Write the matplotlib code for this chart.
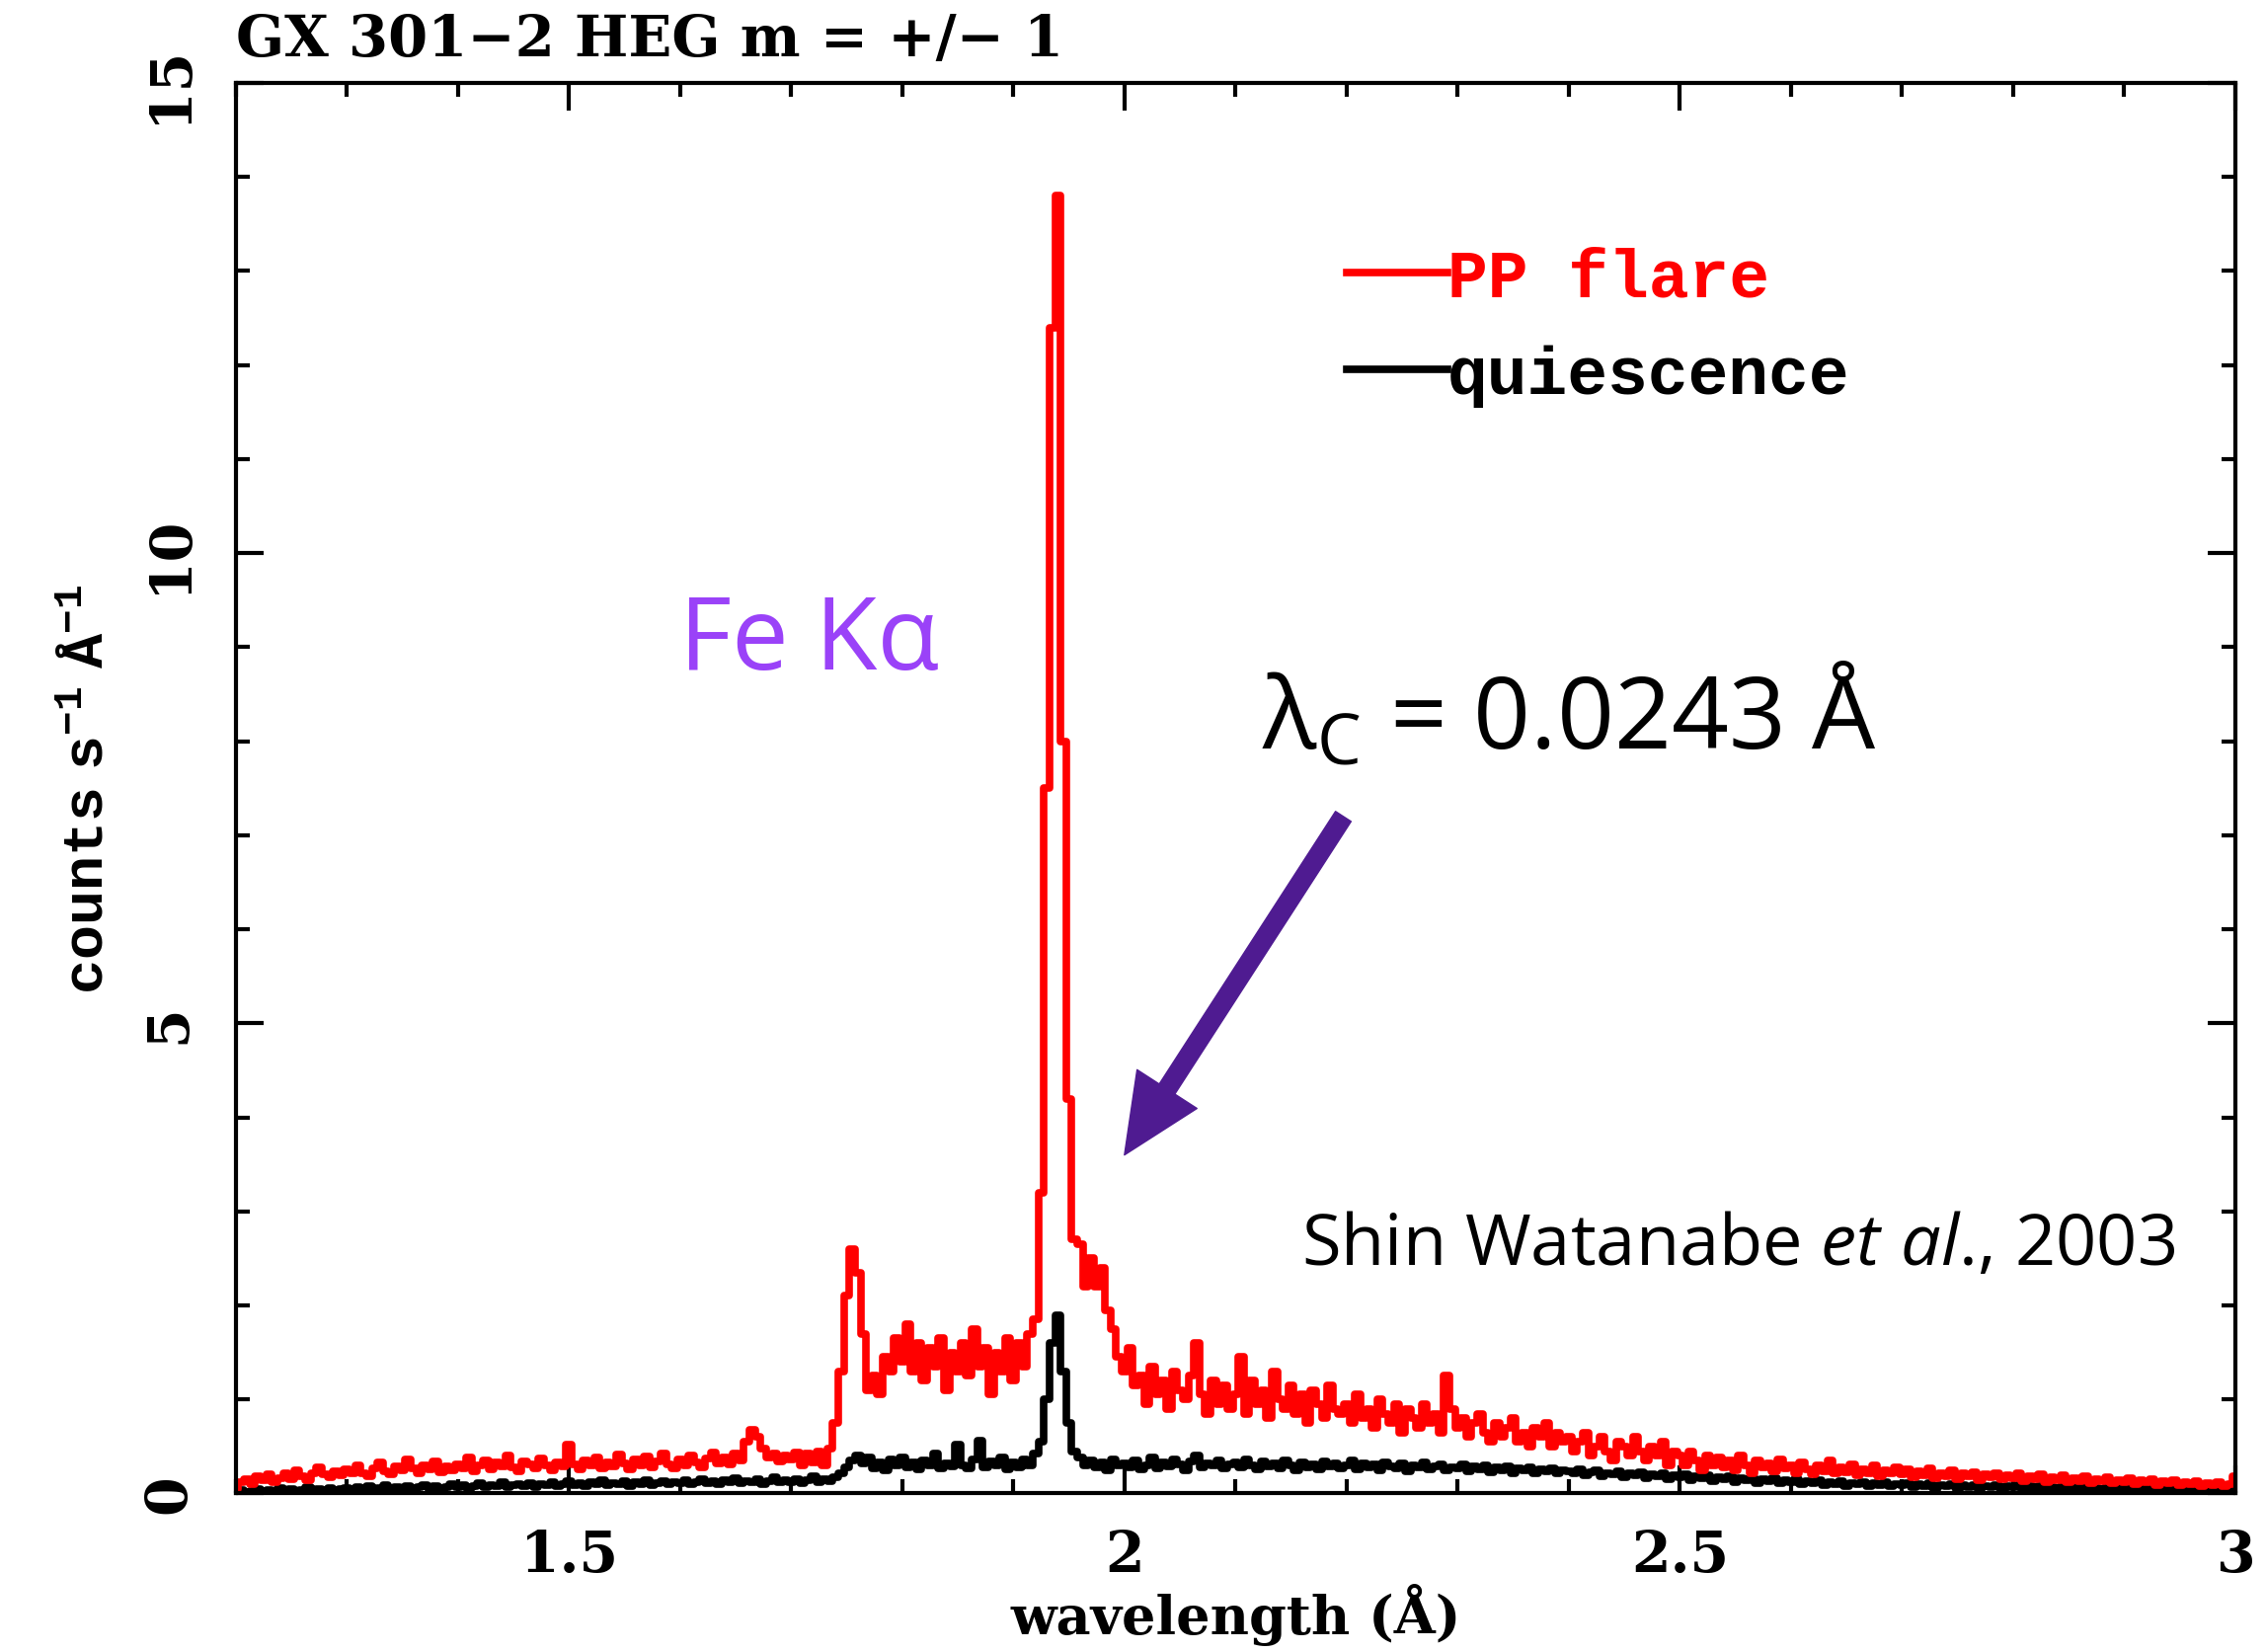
import numpy as np
import matplotlib
matplotlib.use('Agg')
import matplotlib.pyplot as plt
from matplotlib.ticker import MultipleLocator, FormatStrFormatter

plt.rcParams['mathtext.fontset'] = 'custom'
plt.rcParams['mathtext.rm'] = 'Liberation Mono:bold'
plt.rcParams['mathtext.sf'] = 'Open Sans'
plt.rcParams['mathtext.it'] = 'Open Sans:italic'
plt.rcParams['mathtext.bf'] = 'Liberation Mono:bold'

# spectrum, 0.005 A bins from 1.2 to 3.0 A
wl_start, wl_step = 1.2, 0.005

flare = [
    0.05, 0.12, 0.15, 0.10, 0.18, 0.14, 0.20, 0.12, 0.16, 0.22, 0.15, 0.25, 0.18, 0.14, 0.22, 0.28, 0.20, 0.17, 0.24, 0.19,
    0.26, 0.21, 0.30, 0.22, 0.18, 0.27, 0.33, 0.24, 0.20, 0.29, 0.25, 0.36, 0.27, 0.22, 0.30, 0.26, 0.34, 0.23, 0.29, 0.25,
    0.31, 0.27, 0.38, 0.24, 0.30, 0.35, 0.26, 0.33, 0.29, 0.40, 0.28, 0.24, 0.34, 0.31, 0.27, 0.37, 0.30, 0.25, 0.33, 0.29,
    0.52, 0.31, 0.26, 0.35, 0.30, 0.38, 0.27, 0.33, 0.29, 0.41, 0.32, 0.26, 0.36, 0.30, 0.39, 0.28, 0.34, 0.43, 0.31, 0.27,
    0.36, 0.30, 0.40, 0.33, 0.28, 0.37, 0.44, 0.32, 0.38, 0.31, 0.42, 0.35, 0.55, 0.68, 0.60, 0.48, 0.38, 0.43, 0.34, 0.40,
    0.36, 0.44, 0.30, 0.42, 0.33, 0.45, 0.30, 0.48, 0.75, 1.30, 2.10, 2.60, 2.35, 1.70, 1.10, 1.25, 1.05, 1.45, 1.30, 1.65,
    1.40, 1.80, 1.30, 1.60, 1.20, 1.55, 1.35, 1.65, 1.10, 1.50, 1.30, 1.60, 1.25, 1.75, 1.35, 1.55, 1.05, 1.50, 1.30, 1.65,
    1.20, 1.60, 1.35, 1.70, 1.85, 3.20, 7.50, 12.40, 13.80, 8.00, 4.20, 2.70, 2.65, 2.20, 2.50, 2.20, 2.40, 1.95, 1.75, 1.45,
    1.30, 1.55, 1.15, 1.25, 0.95, 1.35, 1.05, 1.20, 0.90, 1.30, 1.10, 1.00, 1.25, 1.60, 1.05, 0.85, 1.20, 0.95, 1.15, 0.90,
    1.05, 1.45, 0.85, 1.20, 0.95, 1.10, 0.80, 1.30, 1.00, 0.90, 1.15, 0.85, 1.05, 0.75, 1.10, 0.95, 0.80, 1.15, 0.90, 0.85,
    0.95, 0.75, 1.05, 0.80, 0.90, 0.70, 1.00, 0.85, 0.75, 0.95, 0.65, 0.90, 0.80, 0.70, 0.95, 0.75, 0.85, 0.65, 1.25, 0.90,
    0.70, 0.80, 0.60, 0.75, 0.85, 0.65, 0.55, 0.75, 0.60, 0.70, 0.80, 0.55, 0.65, 0.50, 0.70, 0.60, 0.75, 0.50, 0.65, 0.55,
    0.60, 0.45, 0.55, 0.65, 0.40, 0.50, 0.60, 0.45, 0.35, 0.55, 0.50, 0.40, 0.60, 0.45, 0.35, 0.50, 0.40, 0.55, 0.30, 0.45,
    0.40, 0.30, 0.45, 0.35, 0.25, 0.40, 0.30, 0.38, 0.28, 0.35, 0.25, 0.40, 0.30, 0.22, 0.35, 0.28, 0.32, 0.24, 0.36, 0.27,
    0.30, 0.22, 0.33, 0.26, 0.20, 0.30, 0.24, 0.35, 0.21, 0.28, 0.23, 0.31, 0.19, 0.26, 0.22, 0.30, 0.18, 0.25, 0.21, 0.28,
    0.20, 0.26, 0.17, 0.24, 0.19, 0.27, 0.16, 0.22, 0.18, 0.25, 0.15, 0.21, 0.18, 0.23, 0.14, 0.20, 0.17, 0.22, 0.15, 0.19,
    0.16, 0.21, 0.13, 0.18, 0.15, 0.20, 0.12, 0.17, 0.14, 0.19, 0.12, 0.16, 0.13, 0.18, 0.11, 0.15, 0.13, 0.17, 0.11, 0.14,
    0.12, 0.16, 0.10, 0.14, 0.12, 0.15, 0.09, 0.13, 0.11, 0.14, 0.09, 0.12, 0.10, 0.13, 0.08, 0.11, 0.09, 0.12, 0.08, 0.10,
    0.18,
]

quiet = [
    0.02, 0.04, 0.01, 0.03, 0.05, 0.02, 0.04, 0.03, 0.06, 0.02, 0.05, 0.03, 0.04, 0.07, 0.03, 0.05, 0.04, 0.06, 0.03, 0.05,
    0.06, 0.04, 0.07, 0.05, 0.08, 0.04, 0.06, 0.09, 0.05, 0.07, 0.06, 0.08, 0.05, 0.07, 0.09, 0.06, 0.08, 0.05, 0.07, 0.10,
    0.07, 0.09, 0.06, 0.08, 0.11, 0.07, 0.09, 0.08, 0.12, 0.07, 0.09, 0.10, 0.08, 0.11, 0.07, 0.10, 0.09, 0.12, 0.08, 0.10,
    0.13, 0.09, 0.11, 0.08, 0.12, 0.10, 0.14, 0.09, 0.11, 0.10, 0.13, 0.08, 0.12, 0.10, 0.14, 0.09, 0.11, 0.13, 0.10, 0.12,
    0.11, 0.14, 0.10, 0.12, 0.15, 0.11, 0.13, 0.10, 0.14, 0.12, 0.16, 0.11, 0.13, 0.12, 0.15, 0.10, 0.13, 0.17, 0.12, 0.14,
    0.12, 0.15, 0.11, 0.14, 0.18, 0.12, 0.15, 0.13, 0.17, 0.22, 0.28, 0.35, 0.40, 0.32, 0.38, 0.27, 0.33, 0.25, 0.36, 0.30,
    0.38, 0.28, 0.33, 0.26, 0.35, 0.30, 0.42, 0.27, 0.32, 0.29, 0.52, 0.30, 0.27, 0.36, 0.56, 0.28, 0.34, 0.30, 0.38, 0.26,
    0.33, 0.28, 0.36, 0.30, 0.42, 0.55, 1.00, 1.60, 1.90, 1.30, 0.75, 0.45, 0.38, 0.30, 0.35, 0.28, 0.33, 0.25, 0.36, 0.30,
    0.32, 0.28, 0.35, 0.26, 0.30, 0.38, 0.27, 0.33, 0.29, 0.36, 0.31, 0.25, 0.34, 0.40, 0.28, 0.32, 0.30, 0.35, 0.27, 0.31,
    0.33, 0.28, 0.36, 0.30, 0.26, 0.34, 0.29, 0.32, 0.27, 0.35, 0.30, 0.25, 0.33, 0.28, 0.31, 0.26, 0.34, 0.29, 0.32, 0.27,
    0.30, 0.35, 0.26, 0.32, 0.28, 0.31, 0.25, 0.33, 0.29, 0.27, 0.32, 0.24, 0.30, 0.28, 0.33, 0.26, 0.29, 0.31, 0.25, 0.28,
    0.27, 0.31, 0.24, 0.29, 0.26, 0.30, 0.23, 0.28, 0.25, 0.29, 0.22, 0.27, 0.25, 0.28, 0.21, 0.26, 0.24, 0.27, 0.22, 0.25,
    0.24, 0.21, 0.26, 0.19, 0.23, 0.25, 0.18, 0.22, 0.20, 0.24, 0.17, 0.21, 0.19, 0.23, 0.16, 0.20, 0.18, 0.22, 0.15, 0.19,
    0.17, 0.20, 0.14, 0.18, 0.16, 0.19, 0.13, 0.17, 0.15, 0.18, 0.12, 0.16, 0.14, 0.17, 0.11, 0.15, 0.13, 0.16, 0.11, 0.14,
    0.12, 0.15, 0.10, 0.13, 0.11, 0.14, 0.09, 0.12, 0.10, 0.13, 0.08, 0.11, 0.10, 0.12, 0.08, 0.11, 0.09, 0.12, 0.08, 0.10,
    0.09, 0.11, 0.07, 0.10, 0.08, 0.11, 0.06, 0.09, 0.08, 0.10, 0.06, 0.09, 0.07, 0.09, 0.06, 0.08, 0.07, 0.09, 0.05, 0.08,
    0.07, 0.09, 0.05, 0.08, 0.06, 0.08, 0.05, 0.07, 0.06, 0.08, 0.04, 0.07, 0.05, 0.07, 0.04, 0.06, 0.05, 0.07, 0.04, 0.06,
    0.05, 0.07, 0.04, 0.06, 0.05, 0.06, 0.03, 0.05, 0.04, 0.06, 0.03, 0.05, 0.04, 0.05, 0.03, 0.04, 0.04, 0.05, 0.03, 0.04,
    0.04,
]

wl = wl_start + wl_step*np.arange(len(flare))

serif = dict(family='DejaVu Serif', weight='bold')
mono = dict(family='Liberation Mono', weight='bold')

fig = plt.figure(figsize=(22.95, 16.74), dpi=100)
ax = fig.add_axes([0.104, 0.0959, 0.8825, 0.8533])

ax.plot(wl, quiet, color='black', lw=5.5, drawstyle='steps-mid', label='quiescence')
ax.plot(wl, flare, color='red', lw=5.5, drawstyle='steps-mid', label='PP flare')

ax.set_xlim(1.2, 3.0)
ax.set_ylim(0, 15)
ax.xaxis.set_major_locator(MultipleLocator(0.5))
ax.xaxis.set_minor_locator(MultipleLocator(0.1))
ax.yaxis.set_major_locator(MultipleLocator(5))
ax.yaxis.set_minor_locator(MultipleLocator(1))
ax.xaxis.set_major_formatter(FormatStrFormatter('%g'))
ax.yaxis.set_major_formatter(FormatStrFormatter('%g'))
ax.tick_params(which='both', direction='in', top=True, right=True, width=3)
ax.tick_params(which='major', length=20)
ax.tick_params(which='minor', length=10)
ax.tick_params(axis='x', pad=25)
ax.tick_params(axis='y', pad=28, labelrotation=90)
for s in ax.spines.values():
    s.set_linewidth(3)
for t in ax.get_xticklabels():
    t.set(size=41, **serif)
for t in ax.get_yticklabels():
    t.set(size=41, **serif)
    t.set_verticalalignment('center')

ax.set_xlabel('wavelength (Å)', labelpad=0, size=39, **serif)
ax.set_ylabel(r'$\mathrm{counts\ s^{-1}\ Å^{-1}}$', fontsize=42, labelpad=20)
ax.set_title('GX 301−2 HEG m = +/− 1', loc='left', pad=20, size=41.5, **serif)

# legend in the upper right, handle touching the text
leg = ax.legend(handles=ax.lines[::-1], loc='upper left', bbox_to_anchor=(0.5557, 0.884),
                frameon=False, handlelength=1.5, handletextpad=0, labelspacing=0.5,
                borderpad=0, borderaxespad=0, labelcolor='linecolor',
                prop=dict(size=49, **mono))

ax.text(0.222, 0.585, 'Fe Kα', transform=ax.transAxes, fontsize=74,
        family='Open Sans', color='#9a42f8', va='baseline')
ax.text(0.513, 0.529, r'$\mathsf{\lambda_C}$ = 0.0243 Å', transform=ax.transAxes,
        fontsize=73, family='Open Sans', color='black', va='baseline')
ax.text(0.970, 0.163, r'Shin Watanabe $\mathit{et\ al}$., 2003', transform=ax.transAxes,
        fontsize=52, family='Open Sans', color='black', va='baseline', ha='right')

ax.annotate('', xy=(2.0, 3.6), xytext=(2.197, 7.2),
            arrowprops=dict(arrowstyle='simple,head_length=1.1,head_width=1.0,tail_width=0.26',
                            mutation_scale=52, color='#4f1b91', shrinkA=0, shrinkB=0))

plt.savefig('out.png', dpi=100)
